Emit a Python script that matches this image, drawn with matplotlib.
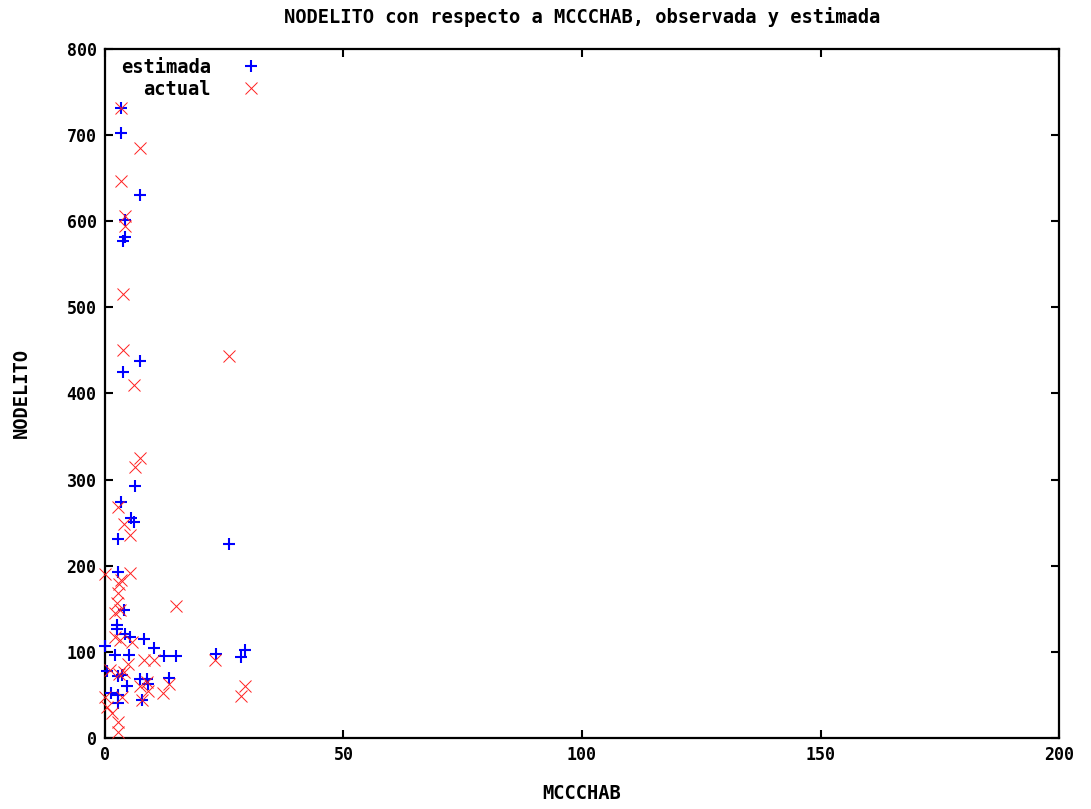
import matplotlib
matplotlib.use("Agg")
import matplotlib.pyplot as plt

# MCCCHAB vs NODELITO: valores estimados (modelo) y observados
est_x = [3.4, 3.4, 7.4, 4.25, 4.25, 3.7, 7.4, 3.8, 6.3, 3.35, 5.5, 6.0, 2.65, 26.1,
         2.65, 3.9, 2.5, 2.6, 4.25, 5.3, 8.1, 0.0, 10.3, 12.3, 14.9, 23.3, 29.4, 28.5,
         2.15, 5.0, 0.4, 2.65, 3.6, 13.5, 7.4, 8.8, 9.1, 4.6, 7.7, 1.3, 2.65, 2.65]
est_y = [732, 702, 631, 602, 582, 577, 438, 425, 293, 274, 256, 251, 231, 225,
         193, 149, 131, 127, 121, 117, 115, 107, 105, 95, 95, 97, 102, 94,
         96, 96, 78, 72, 73, 70, 69, 69, 63, 60, 44, 52, 50, 41]

act_x = [3.4, 7.4, 3.4, 4.25, 4.25, 3.8, 3.8, 26.1, 6.0, 7.4, 6.3, 2.65, 4.0, 5.2,
         0.0, 5.3, 3.35, 2.9, 2.65, 2.5, 3.2, 2.15, 2.15, 3.2, 5.65, 14.9, 23.1, 29.4,
         28.5, 8.1, 10.3, 4.75, 13.5, 12.1, 8.8, 7.4, 9.1, 7.7, 3.0, 4.0, 1.1, 0.0,
         0.4, 1.5, 2.65, 2.65, 3.6]
act_y = [732, 685, 647, 606, 595, 516, 450, 444, 410, 325, 315, 268, 249, 236,
         190, 191, 184, 179, 168, 157, 149, 145, 117, 114, 111, 153, 91, 60,
         49, 91, 90, 86, 63, 52, 65, 60, 54, 44, 74, 77, 79, 48,
         36, 29, 19, 7, 48]

x_ticks = [0, 50, 100, 150, 200]
y_ticks = [0, 100, 200, 300, 400, 500, 600, 700, 800]

plt.rcParams["font.family"] = "DejaVu Sans Mono"
plt.rcParams["font.weight"] = "bold"

fig = plt.figure(figsize=(10.91, 8.09), dpi=100)
ax = fig.add_axes([0.0962, 0.0878, 0.8745, 0.8516])

ax.plot(est_x, est_y, linestyle="none", marker="+", markersize=9,
        markeredgewidth=1.5, color="#0000ff", clip_on=False, zorder=3)
ax.plot(act_x, act_y, linestyle="none", marker="x", markersize=8.5,
        markeredgewidth=0.7, color="#ff2020", clip_on=False, zorder=4)

ax.set_xlim(0, 200)
ax.set_ylim(0, 800)
ax.set_xticks(x_ticks)
ax.set_yticks(y_ticks)
ax.tick_params(direction="in", length=6, width=1.5, top=True, right=True,
               labelsize=12, pad=6)
for lab in ax.get_xticklabels() + ax.get_yticklabels():
    lab.set_fontweight("bold")
for s in ax.spines.values():
    s.set_linewidth(1.6)

ax.set_title("NODELITO con respecto a MCCCHAB, observada y estimada",
             fontsize=13.5, fontweight="bold", pad=19)
ax.set_xlabel("MCCCHAB", fontsize=13.5, fontweight="bold", labelpad=14)
ax.set_ylabel("NODELITO", fontsize=13.5, fontweight="bold", labelpad=26)

# leyenda estilo gnuplot: texto alineado a la derecha y muestra a su derecha
ax.text(0.111, 0.973, "estimada", transform=ax.transAxes, ha="right",
        va="center", fontsize=13.5, fontweight="bold")
ax.text(0.111, 0.941, "actual", transform=ax.transAxes, ha="right",
        va="center", fontsize=13.5, fontweight="bold")
ax.plot([0.153], [0.975], transform=ax.transAxes, marker="+", markersize=9,
        markeredgewidth=1.5, color="#0000ff", clip_on=False)
ax.plot([0.153], [0.943], transform=ax.transAxes, marker="x", markersize=8.5,
        markeredgewidth=0.7, color="#ff2020", clip_on=False)

fig.savefig("out.png", dpi=100)
